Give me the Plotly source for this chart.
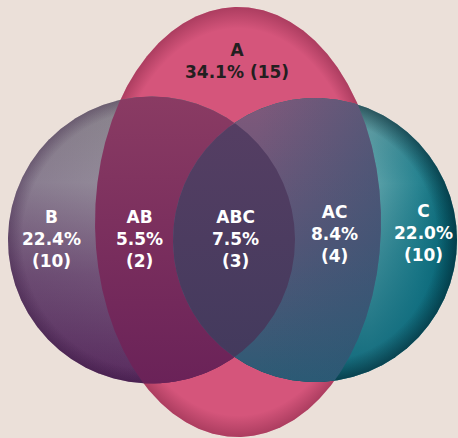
import numpy as np
import plotly.graph_objects as go

W, H = 458, 438

# ---- data ----
region_names = ["A", "B", "C", "AB", "AC", "ABC"]
region_pct = [34.1, 22.4, 22.0, 5.5, 8.4, 7.5]
region_counts = [15, 10, 10, 2, 4, 3]

# ---- geometry of the sets (pixel space: cx, cy, semi-axis x, semi-axis y) ----
SETS = {
    "A": (238, 222, 143, 215),
    "B": (151.5, 240, 143.5, 143.5),
    "C": (315, 240, 142, 142),
}
# label anchor per region
LABEL_POS = {
    "A": (237, 61), "B": (51, 238.5), "C": (423, 232.5),
    "AB": (139, 238.5), "AC": (334, 233.5), "ABC": (235, 238.5),
}
LABEL_COLOR = {"A": "#231f20"}


def exit_t(px, py, dx, dy, s):
    cx, cy, a, b = s
    ox, oy = (px - cx) / a, (py - cy) / b
    ux, uy = dx / a, dy / b
    qa = ux * ux + uy * uy
    qb = 2 * (ox * ux + oy * uy)
    qc = ox * ox + oy * oy - 1
    return (-qb + np.sqrt(qb * qb - 4 * qa * qc)) / (2 * qa)


def region(names, n=900):
    px = np.mean([SETS[k][0] for k in names])
    py = np.mean([SETS[k][1] for k in names])
    th = np.linspace(0, 2 * np.pi, n, endpoint=False)
    dx, dy = np.cos(th), np.sin(th)
    t = np.min([exit_t(px, py, dx, dy, SETS[k]) for k in names], axis=0)
    xs = np.append(px + t * dx, px + t[0] * dx[0])
    ys = np.append(py + t * dy, py + t[0] * dy[0])
    return xs, ys


fig = go.Figure()


def layer(names, kind, stops):
    if kind == "vertical":  # stops given top->bottom on screen; axis is reversed
        stops = [[1 - p, c] for p, c in reversed(stops)]
    xs, ys = region(names)
    fig.add_trace(go.Scatter(
        x=xs, y=ys, mode="lines", fill="toself", line=dict(width=0),
        fillgradient=dict(type=kind, colorscale=stops),
        hoverinfo="skip", showlegend=False))


# A
layer(["A"], "vertical", [[0, "#d5557b"], [1, "#d5557b"]])
layer(["A"], "radial", [[0, "rgba(110,25,55,0)"], [0.9, "rgba(110,25,55,0)"], [1, "rgba(110,25,55,0.4)"]])
# B
layer(["B"], "vertical", [[0, "#8e8b90"], [0.3, "#9a94a0"], [0.62, "#76587c"], [1, "#5a2c60"]])
layer(["B"], "horizontal", [[0, "rgba(60,20,70,0.2)"], [0.6, "rgba(60,20,70,0)"], [1, "rgba(60,20,70,0)"]])
layer(["B"], "radial", [[0, "rgba(40,10,50,0)"], [0.9, "rgba(40,10,50,0)"], [1, "rgba(40,10,50,0.3)"]])
# C
layer(["C"], "horizontal", [[0, "#7aa6aa"], [0.7, "#5ea2a9"], [0.86, "#2a8592"], [1, "#00606f"]])
layer(["C"], "vertical", [[0, "rgba(125,150,150,0.45)"], [0.3, "rgba(0,90,110,0)"], [0.55, "rgba(0,95,115,0.35)"], [1, "rgba(0,95,115,0.85)"]])
layer(["C"], "radial", [[0, "rgba(5,40,50,0)"], [0.86, "rgba(5,40,50,0)"], [1, "rgba(5,40,50,0.6)"]])
# AB
layer(["A", "B"], "vertical", [[0, "#8a3b63"], [1, "#6a2258"]])
# AC
layer(["A", "C"], "vertical", [[0, "#80597b"], [0.5, "#5a5577"], [1, "#2c5b75"]])
layer(["A", "C"], "horizontal", [[0, "rgba(40,85,115,0)"], [0.4, "rgba(40,85,115,0)"], [1, "rgba(40,85,115,0.45)"]])
# ABC
layer(["B", "C"], "vertical", [[0, "#553e63"], [1, "#433a5d"]])

for name, pct, cnt in zip(region_names, region_pct, region_counts):
    x, y = LABEL_POS[name]
    if name == "A":
        txt = f"<b>{name}<br>{pct:.1f}% ({cnt})</b>"
    else:
        txt = f"<b>{name}<br>{pct:.1f}%<br>({cnt})</b>"
    fig.add_annotation(x=x, y=y, text=txt, showarrow=False, xanchor="center", yanchor="middle",
                       font=dict(family="DejaVu Sans", size=17, color=LABEL_COLOR.get(name, "#ffffff")))

fig.update_layout(
    width=W, height=H, margin=dict(l=0, r=0, t=0, b=0),
    paper_bgcolor="#ebe0d9", plot_bgcolor="#ebe0d9",
    xaxis=dict(range=[0, W], visible=False, fixedrange=True),
    yaxis=dict(range=[H, 0], visible=False, fixedrange=True),
    hovermode=False,
)
fig.write_html("out.html", config={"displayModeBar": False},
               post_script="document.body.style.margin='0';document.body.style.background='#ebe0d9';")
